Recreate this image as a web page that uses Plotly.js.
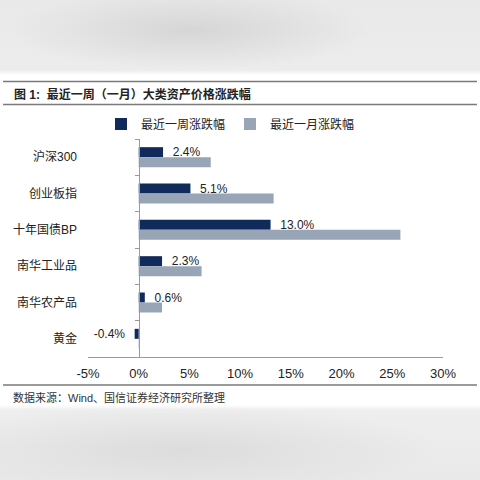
<!DOCTYPE html>
<html>
<head>
<meta charset="utf-8">
<script src="https://cdn.plot.ly/plotly-3.0.1.min.js"></script>
<style>
  html, body { margin: 0; padding: 0; }
  #chart {
    width: 480px; height: 480px;
    background:
      radial-gradient(ellipse 180px 40px at 190px 30px, rgba(200,200,200,0.6), rgba(200,200,200,0) 100%),
      radial-gradient(ellipse 260px 45px at 180px 450px, rgba(205,205,205,0.5), rgba(205,205,205,0) 100%),
      linear-gradient(to bottom, #e9e9e9 0px, #ececec 70px, #ffffff 75px, #ffffff 405px, #eeeeee 410px, #e9e9e9 480px);
  }
</style>
</head>
<body>
<div id="chart"></div>
<script>
// data, top to bottom
let categories = ["沪深300", "创业板指", "十年国债BP", "南华工业品", "南华农产品", "黄金"];
let week_change = [2.4, 5.1, 13.0, 2.3, 0.6, -0.4];
let month_change = [7.1, 13.3, 25.8, 6.2, 2.3, 0.05];
let x_range = [-5, 30];
let x_tickvals = [-5, 0, 5, 10, 15, 20, 25, 30];
let x_ticktext = ["-5%", "0%", "5%", "10%", "15%", "20%", "25%", "30%"];

const W = 480, H = 480;
const margin = { l: 88, r: 37, t: 139, b: 123 };
const plotW = W - margin.l - margin.r;
const plotH = H - margin.t - margin.b;

// pixel -> paper helpers for the page decoration
function px2x(px) { return (px - margin.l) / plotW; }
function px2y(py) { return 1 - (py - margin.t) / plotH; }

const cjk = "Liberation Sans, Arial, 'Noto Sans CJK SC', sans-serif";

let week_labels = week_change.map(v => v >= 0 ? "\u00a0\u00a0%{x:.1f}%" : "-%{customdata:.1f}%\u00a0\u00a0");

let trace_week = {
  type: "bar",
  orientation: "h",
  name: "最近一周涨跌幅",
  y: categories,
  x: week_change,
  customdata: week_change.map(v => Math.abs(v)),
  marker: { color: "#0f2a5b" },
  texttemplate: week_labels,
  textposition: "outside",
  constraintext: "none",
  textfont: { family: cjk, size: 12, color: "#222" },
  cliponaxis: false,
  hoverinfo: "skip",
};
let trace_month = {
  type: "bar",
  orientation: "h",
  name: "最近一月涨跌幅",
  y: categories,
  x: month_change,
  marker: { color: "#97a5b6" },
  hoverinfo: "skip",
};
// empty helper so the axis at 0% knows the categories (for its boundary ticks)
let trace_axis = {
  type: "scatter",
  mode: "none",
  y: categories,
  x: categories.map(() => null),
  yaxis: "y2",
  showlegend: false,
  hoverinfo: "skip",
};

let line_style = { color: "#7a7a7a", width: 1.5 };
let hline = (py) => ({
  type: "line", xref: "paper", yref: "paper",
  x0: px2x(3), x1: px2x(477), y0: px2y(py), y1: px2y(py),
  line: line_style,
});

let layout = {
  width: W, height: H,
  margin: margin,
  paper_bgcolor: "rgba(0,0,0,0)",
  plot_bgcolor: "rgba(0,0,0,0)",
  barmode: "group",
  bargap: 0.45,
  bargroupgap: 0,
  font: { family: cjk, color: "#222" },
  showlegend: true,
  legend: {
    orientation: "h",
    x: px2x(101), xanchor: "left",
    y: px2y(124), yanchor: "middle",
    font: { family: cjk, size: 12, color: "#222" },
    bgcolor: "rgba(0,0,0,0)",
  },
  xaxis: {
    range: x_range,
    tickmode: "array",
    tickvals: x_tickvals,
    ticktext: x_ticktext,
    showgrid: false,
    zeroline: false,
    showline: true,
    linecolor: "#9a9a9a",
    linewidth: 1,
    ticks: "",
    ticklabelstandoff: 4,
    tickfont: { family: cjk, size: 13, color: "#222" },
    fixedrange: true,
  },
  yaxis: {
    autorange: "reversed",
    showgrid: false,
    zeroline: false,
    showline: false,
    ticks: "",
    ticklabelstandoff: 10,
    tickfont: { family: cjk, size: 12, color: "#222" },
    fixedrange: true,
  },
  yaxis2: {
    overlaying: "y",
    matches: "y",
    anchor: "free",
    position: (0 - x_range[0]) / (x_range[1] - x_range[0]),
    side: "left",
    showgrid: false,
    zeroline: false,
    showline: true,
    linecolor: "#9a9a9a",
    linewidth: 1,
    ticks: "outside",
    tickson: "boundaries",
    ticklen: 4,
    tickcolor: "#9a9a9a",
    showticklabels: false,
    fixedrange: true,
  },
  shapes: [hline(81.5), hline(104.5), hline(385)],
  annotations: [
    {
      xref: "paper", yref: "paper",
      x: px2x(12), y: px2y(94), xanchor: "left", yanchor: "middle",
      text: "<b>图 1:  最近一周（一月）大类资产价格涨跌幅</b>",
      showarrow: false,
      font: { family: cjk, size: 12, color: "#222" },
    },
    {
      xref: "paper", yref: "paper",
      x: px2x(11), y: px2y(397), xanchor: "left", yanchor: "middle",
      text: "数据来源：Wind、国信证券经济研究所整理",
      showarrow: false,
      font: { family: cjk, size: 11, color: "#333" },
    },
  ],
};

Plotly.newPlot("chart", [trace_week, trace_month, trace_axis], layout, { displayModeBar: false, staticPlot: true });
</script>
</body>
</html>
